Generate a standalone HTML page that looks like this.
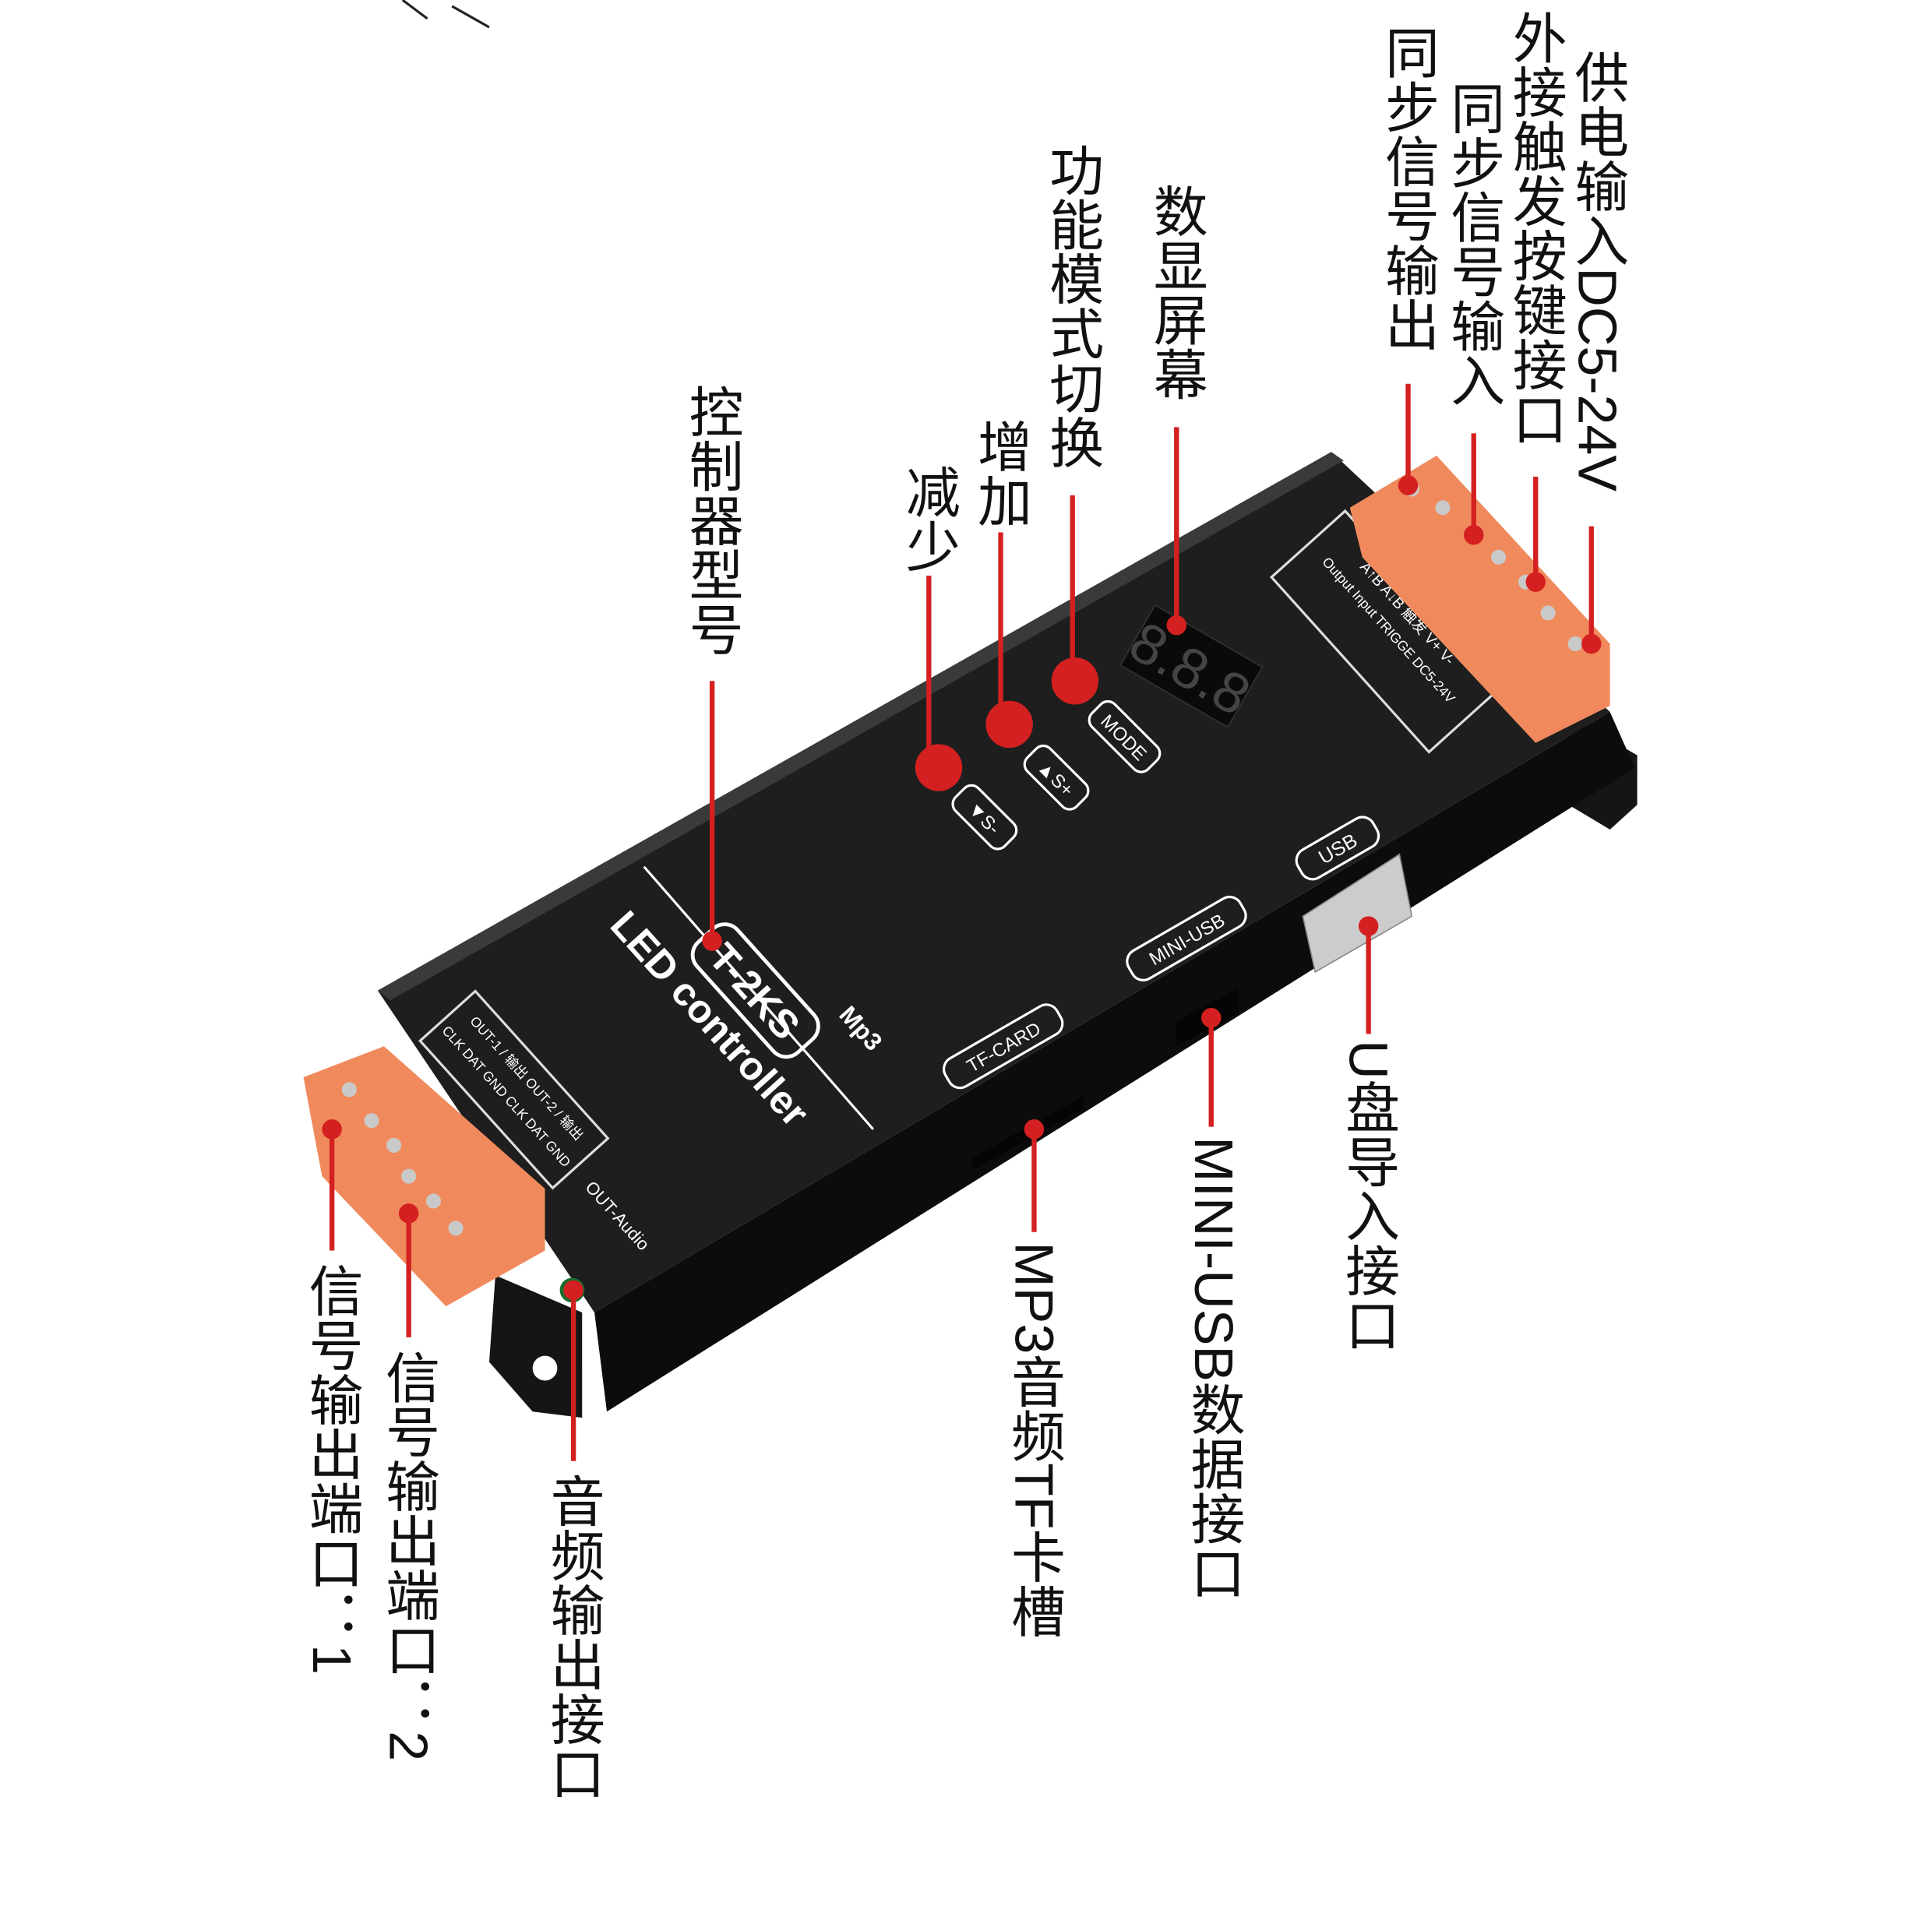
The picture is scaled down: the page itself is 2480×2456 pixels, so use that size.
<!DOCTYPE html>
<html><head><meta charset="utf-8"><style>
html,body{margin:0;padding:0;background:#fff;width:2480px;height:2456px;overflow:hidden}
svg{display:block}
.lab{font-family:"Liberation Sans","Noto Sans CJK SC",sans-serif;font-size:44px;fill:#111;writing-mode:vertical-rl;text-orientation:mixed}
.dev{font-family:"Liberation Sans",sans-serif;fill:#fff}
</style></head><body>
<svg width="2480" height="2456" viewBox="0 0 1560 1545" xmlns="http://www.w3.org/2000/svg">
<rect width="1560" height="1545" fill="#fff"/>
<path d="M325 0 L345 15 M365 5 L395 22" stroke="#222" stroke-width="2"/>
<!-- mounting tabs -->
<path d="M1270 580 L1322 610 L1322 650 L1300 670 L1250 640 Z" fill="#151515"/>
<path d="M400 1030 L470 1060 L470 1145 L430 1140 L395 1100 Z" fill="#151515"/>
<circle cx="440" cy="1105" r="10" fill="#fff"/>
<!-- body side face -->
<path d="M480 1060 L1300 575 L1320 620 L490 1140 Z" fill="#0c0c0c"/>
<!-- body top -->
<path d="M305 800 L1075 365 L1300 575 L480 1060 Z" fill="#1e1e1e"/>
<path d="M305 800 L1075 365 L1085 372 L315 808 Z" fill="#3a3a3a"/>
<!-- right terminal label strip -->
<g transform="translate(1120,510) rotate(48)"><rect x="-95" y="-40" width="190" height="80" fill="none" stroke="#ddd" stroke-width="2"/>
<text class="dev" x="0" y="-18" font-size="12" text-anchor="middle">A↑B  A↓B  触发  V+ V-</text>
<text class="dev" x="0" y="2" font-size="11" text-anchor="middle">Output Input TRIGGE DC5-24V</text></g>
<!-- right terminal -->
<path d="M1090 410 L1160 368 L1300 520 L1300 570 L1240 600 L1100 450 Z" fill="#f08a5d"/>
<g fill="#c9c9c9"><circle cx="1140" cy="395" r="6"/><circle cx="1165" cy="410" r="6"/><circle cx="1190" cy="430" r="6"/><circle cx="1210" cy="450" r="6"/><circle cx="1232" cy="470" r="6"/><circle cx="1250" cy="495" r="6"/><circle cx="1272" cy="520" r="6"/></g>
<!-- left terminal label strip -->
<g transform="translate(415,880) rotate(48)"><rect x="-80" y="-30" width="160" height="60" fill="none" stroke="#ddd" stroke-width="2"/>
<text class="dev" x="0" y="-10" font-size="11" text-anchor="middle">OUT-1 / 输出  OUT-2 / 输出</text>
<text class="dev" x="0" y="12" font-size="11" text-anchor="middle">CLK DAT GND CLK DAT GND</text></g>
<!-- left terminal -->
<path d="M245 870 L310 845 L440 960 L440 1010 L360 1055 L260 950 Z" fill="#f08a5d"/>
<g fill="#c9c9c9"><circle cx="282" cy="880" r="6"/><circle cx="300" cy="905" r="6"/><circle cx="318" cy="925" r="6"/><circle cx="330" cy="950" r="6"/><circle cx="350" cy="970" r="6"/><circle cx="368" cy="992" r="6"/></g>
<!-- display -->
<g transform="translate(962,538) rotate(30)"><rect x="-50" y="-28" width="100" height="56" fill="#0a0a0a" stroke="#333"/><text class="dev" x="0" y="18" font-size="46" text-anchor="middle" style="fill:#444">8.8.8</text></g>
<!-- buttons -->
<circle cx="758" cy="620" r="19" fill="#d42020"/>
<circle cx="815" cy="585" r="19" fill="#d42020"/>
<circle cx="868" cy="550" r="19" fill="#d42020"/>
<g transform="translate(795,660) rotate(45)"><rect x="-28" y="-13" width="56" height="26" rx="8" fill="none" stroke="#fff" stroke-width="2"/><text class="dev" x="0" y="6" font-size="15" text-anchor="middle">▼S-</text></g>
<g transform="translate(853,628) rotate(45)"><rect x="-28" y="-13" width="56" height="26" rx="8" fill="none" stroke="#fff" stroke-width="2"/><text class="dev" x="0" y="6" font-size="15" text-anchor="middle">▲S+</text></g>
<g transform="translate(908,595) rotate(45)"><rect x="-32" y="-13" width="64" height="26" rx="8" fill="none" stroke="#fff" stroke-width="2"/><text class="dev" x="0" y="6" font-size="15" text-anchor="middle">MODE</text></g>
<!-- model label -->
<line x1="520" y1="700" x2="705" y2="912" stroke="#fff" stroke-width="2"/>
<g transform="translate(610,800) rotate(48)"><rect x="-60" y="-22" width="120" height="44" rx="14" fill="none" stroke="#fff" stroke-width="3"/><text class="dev" x="0" y="12" font-size="32" font-weight="bold" text-anchor="middle">T-2KS</text></g>
<text class="dev" transform="translate(565,830) rotate(48)" font-size="32" font-weight="bold" text-anchor="middle">LED controller</text>
<text class="dev" transform="translate(690,835) rotate(48)" font-size="20" font-weight="bold" text-anchor="middle">Mp3</text>
<!-- ports labels -->
<g transform="translate(1080,685) rotate(-30)"><rect x="-35" y="-13" width="70" height="26" rx="10" fill="none" stroke="#fff" stroke-width="2"/><text class="dev" x="0" y="6" font-size="16" text-anchor="middle">USB</text></g>
<g transform="translate(958,758) rotate(-30)"><rect x="-52" y="-13" width="104" height="26" rx="10" fill="none" stroke="#fff" stroke-width="2"/><text class="dev" x="0" y="6" font-size="15" text-anchor="middle">MINI-USB</text></g>
<g transform="translate(810,845) rotate(-30)"><rect x="-52" y="-13" width="104" height="26" rx="10" fill="none" stroke="#fff" stroke-width="2"/><text class="dev" x="0" y="6" font-size="15" text-anchor="middle">TF-CARD</text></g>
<!-- USB port -->
<path d="M1052 740 L1130 690 L1140 740 L1062 785 Z" fill="#ccc" stroke="#888"/>
<path d="M950 825 L1000 798 L1000 818 L950 845 Z" fill="#050505"/>
<path d="M785 935 L875 885 L875 895 L785 945 Z" fill="#050505"/>
<circle cx="462" cy="1042" r="10" fill="#1a6d2a"/><circle cx="462" cy="1042" r="5" fill="#111"/>
<text class="dev" transform="translate(495,985) rotate(48)" font-size="14" text-anchor="middle">OUT-Audio</text>
<!-- connector lines -->
<g stroke="#d42020" stroke-width="4" fill="#d42020">
<line x1="1137" y1="310" x2="1137" y2="392"/><circle cx="1137" cy="392" r="6"/>
<line x1="1190" y1="350" x2="1190" y2="432"/><circle cx="1190" cy="432" r="6"/>
<line x1="1240" y1="385" x2="1240" y2="470"/><circle cx="1240" cy="470" r="6"/>
<line x1="1285" y1="425" x2="1285" y2="520"/><circle cx="1285" cy="520" r="6"/>
<line x1="950" y1="345" x2="950" y2="505"/><circle cx="950" cy="505" r="6"/>
<line x1="866" y1="400" x2="866" y2="550"/><circle cx="866" cy="550" r="6"/>
<line x1="808" y1="430" x2="808" y2="585"/><circle cx="808" cy="585" r="6"/>
<line x1="750" y1="465" x2="750" y2="620"/><circle cx="750" cy="620" r="6"/>
<line x1="575" y1="550" x2="575" y2="760"/><circle cx="575" cy="760" r="6"/>
<line x1="268" y1="912" x2="268" y2="1010"/><circle cx="268" cy="912" r="6"/>
<line x1="330" y1="980" x2="330" y2="1080"/><circle cx="330" cy="980" r="6"/>
<line x1="463" y1="1042" x2="463" y2="1180"/><circle cx="463" cy="1042" r="6"/>
<line x1="835" y1="912" x2="835" y2="995"/><circle cx="835" cy="912" r="6"/>
<line x1="978" y1="822" x2="978" y2="910"/><circle cx="978" cy="822" r="6"/>
<line x1="1105" y1="748" x2="1105" y2="835"/><circle cx="1105" cy="748" r="6"/>
</g>
<!-- vertical labels -->
<text class="lab" x="1137" y="20">同步信号输出</text>
<text class="lab" x="1190" y="65">同步信号输入</text>
<text class="lab" x="1240" y="8">外接触发按键接口</text>
<text class="lab" x="1290" y="40">供电输入DC5-24V</text>
<text class="lab" x="950" y="148">数显屏幕</text>
<text class="lab" x="866" y="115">功能模式切换</text>
<text class="lab" x="808" y="338">增加</text>
<text class="lab" x="750" y="375">减少</text>
<text class="lab" x="575" y="310">控制器型号</text>
<text class="lab" x="268" y="1020">信号输出端口：1</text>
<text class="lab" x="330" y="1090">信号输出端口：2</text>
<text class="lab" x="463" y="1190">音频输出接口</text>
<text class="lab" x="835" y="1003">MP3音频TF卡槽</text>
<text class="lab" x="980" y="918">MINI-USB数据接口</text>
<text class="lab" x="1105" y="840">U盘导入接口</text>
</svg>
</body></html>
